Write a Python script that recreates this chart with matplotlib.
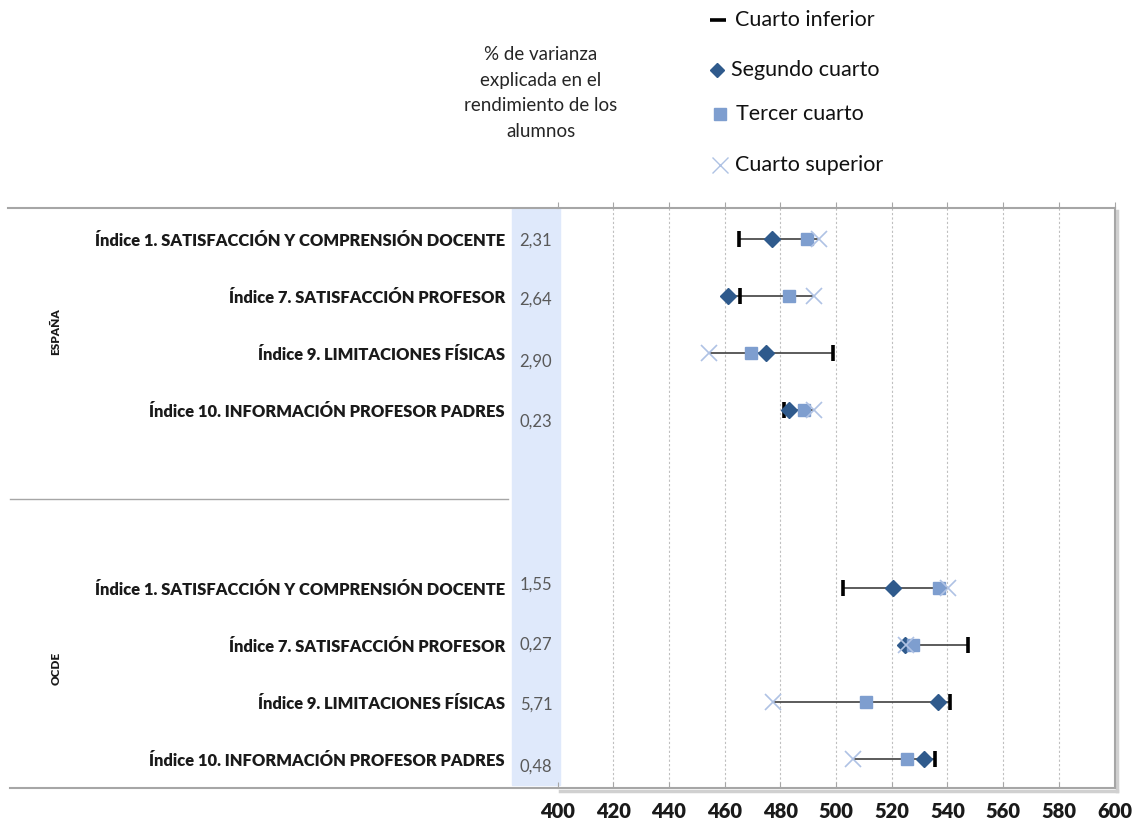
import matplotlib
matplotlib.use("Agg")
import matplotlib.pyplot as plt
from matplotlib.patches import Rectangle

# ---------------- data ----------------
categories = ["Índice 1. SATISFACCIÓN Y COMPRENSIÓN DOCENTE",
              "Índice 7. SATISFACCIÓN PROFESOR",
              "Índice 9. LIMITACIONES FÍSICAS",
              "Índice 10. INFORMACIÓN PROFESOR PADRES"]
groups = ["ESPAÑA", "OCDE"]
series_names = ["Cuarto inferior", "Segundo cuarto", "Tercer cuarto", "Cuarto superior"]

esp_inferior = [465.2, 465.5, 499.0, 481.3]
esp_segundo = [477.0, 461.2, 474.8, 483.0]
esp_tercer = [489.6, 483.0, 469.5, 488.5]
esp_superior = [494.0, 492.0, 454.4, 492.0]

ocde_inferior = [502.5, 547.4, 541.0, 535.5]
ocde_segundo = [520.5, 524.8, 536.6, 531.6]
ocde_tercer = [537.0, 527.6, 510.7, 525.5]
ocde_superior = [540.3, 525.0, 477.4, 506.0]

varianza_esp = ["2,31", "2,64", "2,90", "0,23"]
varianza_ocde = ["1,55", "0,27", "5,71", "0,48"]

xticks = [400, 420, 440, 460, 480, 500, 520, 540, 560, 580, 600]
header = "% de varianza\nexplicada en el\nrendimiento de los\nalumnos"

# ---------------- style ----------------
W, H = 1137, 826
LABEL_FONT = ["Lato", "DejaVu Sans"]
TEXT_FONT = ["Lato", "DejaVu Sans"]
C_INF = "#000000"
C_SEG = "#2F5A8C"
C_TER = "#7E9ECF"
C_SUP = "#AFC2E4"
C_LINE = "#404040"
C_GRID = "#BFBFBF"
C_FRAME = "#A6A6A6"
C_BAND = "#DFE9FB"

fig = plt.figure(figsize=(W / 100, H / 100), dpi=100)

# pixel overlay for decoration
bg = fig.add_axes([0, 0, 1, 1], zorder=0)
bg.set_xlim(0, W)
bg.set_ylim(H, 0)
bg.axis("off")

left_px, right_px, top_px, bot_px = 557.5, 1114.5, 208, 788
ax = fig.add_axes([left_px / W, 1 - bot_px / H, (right_px - left_px) / W, (bot_px - top_px) / H], zorder=1)
ax.set_facecolor("none")

# row positions
gap = 3.12
esp_rows = [0, 1, 2, 3]
ocde_rows = [3 + gap + i for i in range(4)]
ax.set_ylim(9.63, -0.54)
ax.set_xlim(400, 600)

def draw_group(rows, inf, seg, ter, sup):
    for r, a, b, c, d in zip(rows, inf, seg, ter, sup):
        lo, hi = min(a, b, c, d), max(a, b, c, d)
        ax.plot([lo, hi], [r, r], color=C_LINE, lw=1.2, zorder=2)
    ax.plot(inf, rows, ls="none", marker="|", ms=11, mew=2.6, color=C_INF, zorder=3)
    ax.plot(seg, rows, ls="none", marker="D", ms=8, color=C_SEG, zorder=4)
    ax.plot(ter, rows, ls="none", marker="s", ms=8, color=C_TER, zorder=5)
    ax.plot(sup, rows, ls="none", marker="x", ms=11, mew=1.2, color=C_SUP, zorder=6)

draw_group(esp_rows, esp_inferior, esp_segundo, esp_tercer, esp_superior)
draw_group(ocde_rows, ocde_inferior, ocde_segundo, ocde_tercer, ocde_superior)

# grid
for xv in xticks[1:-1]:
    ax.axvline(xv, color=C_GRID, lw=0.8, ls=(0, (2, 2)), zorder=1)

# spines
ax.spines["left"].set_visible(False)
for s in ["top", "bottom", "right"]:
    ax.spines[s].set_color(C_FRAME)
    ax.spines[s].set_linewidth(1.5)

ax.set_yticks([])
ax.set_xticks(xticks)
ax.set_xticklabels([str(v) for v in xticks], fontsize=14.5, fontweight="heavy",
                   family=LABEL_FONT, color="#1a1a1a")
ax.tick_params(axis="x", direction="in", length=4, color=C_FRAME, pad=10)
sec = ax.secondary_xaxis("top")
sec.set_xticks(xticks)
sec.set_xticklabels([])
sec.tick_params(direction="out", length=4, color=C_FRAME)
sec.spines["top"].set_visible(False)

# decorations in pixel space
bg.add_patch(Rectangle((512, 208), 48, 577, color=C_BAND, zorder=0))
bg.plot([8, left_px], [208, 208], color=C_FRAME, lw=1.5)
bg.plot([10, left_px], [788, 788], color=C_FRAME, lw=1.5)
bg.plot([10, 508], [499, 499], color=C_FRAME, lw=1.0)
bg.plot([1117, 1117], [211, 791], color="#D0D0D0", lw=2.5)
bg.plot([560, 1117], [791, 791], color="#D0D0D0", lw=2.5)

# category labels
to_px = lambda r: 239 + 57 * r
for rows in (esp_rows, ocde_rows):
    for r, cat in zip(rows, categories):
        bg.text(505, to_px(r) + 2, cat, ha="right", va="center", fontsize=11.9,
                fontweight="heavy", family=LABEL_FONT, color="#1a1a1a")

# group labels
bg.text(56, 332, groups[0], rotation=90, ha="center", va="center", fontsize=8.5,
        fontweight="heavy", family=LABEL_FONT, color="#1a1a1a")
bg.text(56, 668, groups[1], rotation=90, ha="center", va="center", fontsize=8.5,
        fontweight="heavy", family=LABEL_FONT, color="#1a1a1a")

# variance labels
var_y_esp = [241, 300, 362, 422]
var_y_ocde = [585, 645, 705, 767]
for y, t in zip(var_y_esp + var_y_ocde, varianza_esp + varianza_ocde):
    bg.text(536, y, t, ha="center", va="center", fontsize=12, family=TEXT_FONT, color="#595959")

# header
bg.text(541, 93, header, ha="center", va="center", fontsize=13.5, family=TEXT_FONT,
        color="#262626", linespacing=1.6)

# legend
leg_y = [20, 70, 114, 165]
leg_mx = [718, 717, 720, 720]
leg_tx = [735, 731, 736, 735]
mk = [dict(marker="_", ms=11, mew=2.6, color=C_INF),
      dict(marker="D", ms=7, color=C_SEG),
      dict(marker="s", ms=8, color=C_TER),
      dict(marker="x", ms=11, mew=1.0, color=C_SUP)]
for y, mx, tx, m, name in zip(leg_y, leg_mx, leg_tx, mk, series_names):
    bg.plot([mx], [y], ls="none", **m)
    bg.text(tx, y, name, ha="left", va="center", fontsize=15.5, family=TEXT_FONT, color="#111111")

fig.savefig("out.png", dpi=100)
